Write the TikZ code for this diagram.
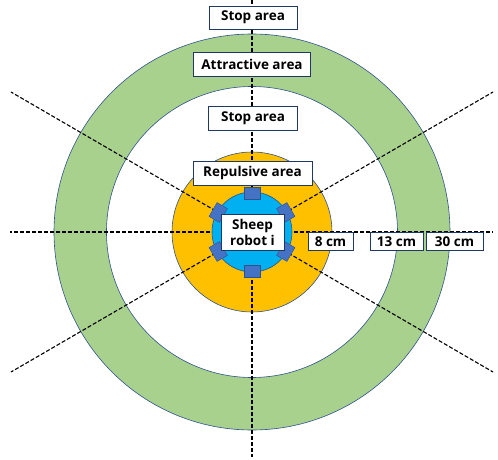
\documentclass[tikz,border=0pt]{standalone}
\usepackage{fontspec}
\setmainfont{Open Sans}
\usetikzlibrary{calc}
\definecolor{ringgreen}{HTML}{A9D18E}
\definecolor{repulse}{HTML}{FFC000}
\definecolor{bodyblue}{HTML}{00B0F0}
\definecolor{wheelblue}{HTML}{4472C4}
\definecolor{edgeblue}{HTML}{2F528F}
\definecolor{tagedge}{HTML}{203864}
\tikzset{
  zone/.style={draw=edgeblue, line width=0.6pt},
  guide/.style={black, line width=1.1pt, dash pattern=on 4pt off 2pt},
  wheel/.style={draw=edgeblue, fill=wheelblue, line width=0.4pt,
    minimum width=16pt, minimum height=12pt, inner sep=0pt},
  tag/.style={draw=tagedge, fill=white, line width=0.8pt, inner sep=0pt,
    font=\fontsize{13.5}{16}\selectfont\bfseries, text=black, align=center},
}
\begin{document}
\begin{tikzpicture}[x=1pt,y=1pt]
\useasboundingbox (0,0) rectangle (498,459);
\coordinate (C) at (252,227);

% attractive ring
\fill[ringgreen, even odd rule] (C) circle (198) (C) circle (145.5);
\draw[zone] (C) circle (198);
\draw[zone] (C) circle (145.5);
% repulsive disc
\draw[zone, fill=repulse] (C) circle (80);

% sector guide lines
\coordinate (gT) at (252,459);
\coordinate (gB) at (252,2);
\coordinate (gL) at (10,227);
\coordinate (gR) at (493,227);
\coordinate (gUL) at (11,367);
\coordinate (gUR) at (493,367);
\coordinate (gLL) at (11,87);
\coordinate (gLR) at (493,87);
\foreach \e in {gT,gB,gL,gR,gUL,gUR,gLL,gLR}
  \draw[guide] (C) -- (\e);

% robot body and its sensors
\draw[zone, fill=bodyblue] (C) circle (40);
\foreach \a in {30,90,150,210,270,330}
  \node[wheel, rotate=\a-90] (w\a) at ($(C)+(\a:39)$) {};

% labels
\node[tag, minimum width=88pt, minimum height=23pt] (stopOut) at (253,441.5) {Stop area};
\node[tag, minimum width=117pt, minimum height=24pt] (attr) at (252,395) {Attractive area};
\node[tag, minimum width=89pt, minimum height=24pt] (stopIn) at (253,341) {Stop area};
\node[tag, minimum width=119pt, minimum height=24pt] (rep) at (252.5,286) {Repulsive area};
\node[tag, minimum width=63pt, minimum height=36pt] (sheep) at (252.5,227) {Sheep\\robot i};
\node[tag, minimum width=45pt, minimum height=18pt] (r8) at (330.5,217.5) {8 cm};
\node[tag, minimum width=53pt, minimum height=18pt] (r13) at (396.5,217.5) {13 cm};
\node[tag, minimum width=57pt, minimum height=18pt] (r30) at (454.5,217.5) {30 cm};
\end{tikzpicture}
\end{document}
